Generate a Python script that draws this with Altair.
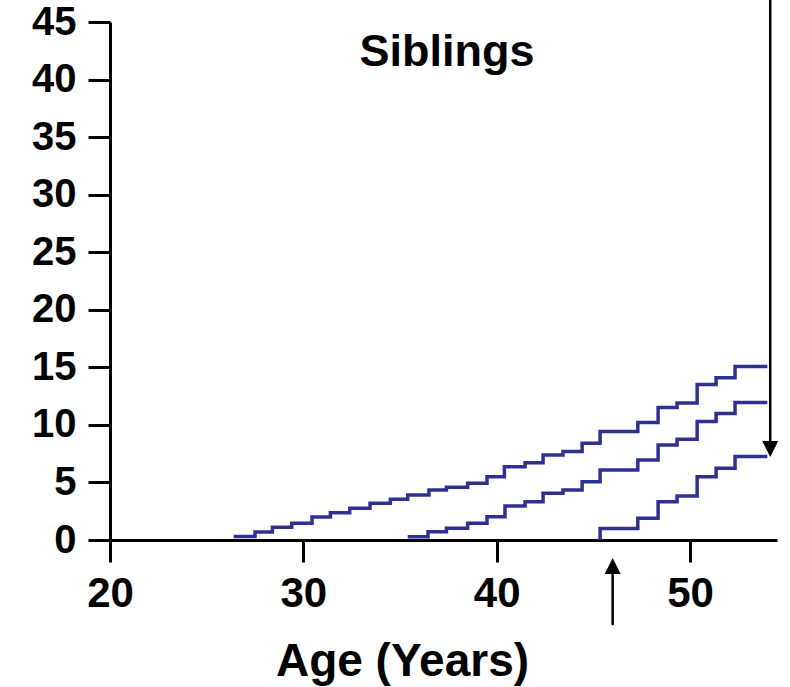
import altair as alt
import pandas as pd

# Series (age in years, cumulative value)
top_ages = [26.4, 27.5, 28.4, 29.4, 30.45, 31.4, 32.4, 33.45, 34.5, 35.4, 36.5, 37.4, 38.5, 39.5,
            40.4, 41.47, 42.4, 43.43, 44.42, 45.35, 47.3, 48.35, 49.33, 50.37, 51.35, 52.33, 54.0]
top_vals = [0.3, 0.7, 1.1, 1.45, 2.0, 2.37, 2.75, 3.19, 3.54, 3.91, 4.35, 4.58, 4.93, 5.5,
            6.37, 6.72, 7.39, 7.68, 8.41, 9.42, 10.2, 11.5, 11.9, 13.5, 14.1, 15.07, 15.07]

mid_ages = [35.4, 36.45, 37.4, 38.5, 39.5, 40.43, 41.47, 42.4, 43.43, 44.42, 45.35, 47.3, 48.35,
            49.33, 50.37, 51.35, 52.33, 54.0]
mid_vals = [0.29, 0.72, 1.01, 1.45, 2.03, 2.95, 3.33, 4.06, 4.35, 5.07, 6.09, 6.96, 8.26,
            8.75, 10.3, 11.0, 11.94, 11.94]

low_ages = [45.35, 45.35, 47.3, 48.35, 49.33, 50.37, 51.35, 52.33, 54.0]
low_vals = [0.0, 1.0, 1.88, 3.33, 3.83, 5.5, 6.23, 7.25, 7.25]

x_ticks = [20, 30, 40, 50]
y_ticks = [0, 5, 10, 15, 20, 25, 30, 35, 40, 45]

panel_title = "Siblings"
x_title = "Age (Years)"

# Annotation arrows (age, start value, tip value)
down_arrow = [54.15, 47.0, 7.2]
up_arrow = [46.0, -7.4, -1.57]

rows = []
for name, ages, vals in [("top", top_ages, top_vals), ("mid", mid_ages, mid_vals), ("low", low_ages, low_vals)]:
    for i, (a, v) in enumerate(zip(ages, vals)):
        rows.append({"series": name, "age": a, "value": v, "order": i})
df = pd.DataFrame(rows)

FONT = "Liberation Sans"

xs = alt.Scale(domain=[20, 54.5], nice=False, zero=False)
ys = alt.Scale(domain=[0, 45], nice=False)

lines = alt.Chart(df).mark_line(
    interpolate="step-after", color="#2e3192", strokeWidth=3.5, clip=False
).encode(
    x=alt.X("age:Q", scale=xs,
            axis=alt.Axis(values=x_ticks, title=x_title, grid=False, labelFlush=False,
                          labelFontSize=42,
                          titleX=292, titleY=135, titleBaseline="alphabetic",
                          titleAlign="center", titleFontSize=46, labelPadding=11)),
    y=alt.Y("value:Q", scale=ys,
            axis=alt.Axis(values=y_ticks, title=None, grid=False, labelFlush=False,
                          labelFontSize=40, labelPadding=12)),
    detail="series:N",
    order="order:Q",
)

arrows_df = pd.DataFrame([
    {"age": down_arrow[0], "v1": down_arrow[1], "v2": down_arrow[2] + 1.0, "tip": down_arrow[2], "dir": "down"},
    {"age": up_arrow[0], "v1": up_arrow[1], "v2": up_arrow[2] - 1.0, "tip": up_arrow[2], "dir": "up"},
])

shafts = alt.Chart(arrows_df).mark_rule(color="black", strokeWidth=2.5, clip=False).encode(
    x=alt.X("age:Q", scale=xs), y=alt.Y("v1:Q", scale=ys), y2="v2:Q"
)

head_down = alt.Chart(arrows_df[arrows_df["dir"] == "down"]).mark_point(
    shape="M-1,-2L1,-2L0,0Z", filled=True, color="black", opacity=1, size=256, clip=False
).encode(x=alt.X("age:Q", scale=xs), y=alt.Y("tip:Q", scale=ys))

head_up = alt.Chart(arrows_df[arrows_df["dir"] == "up"]).mark_point(
    shape="M-1,2L1,2L0,0Z", filled=True, color="black", opacity=1, size=256, clip=False
).encode(x=alt.X("age:Q", scale=xs), y=alt.Y("tip:Q", scale=ys))

title_df = pd.DataFrame([{"age": 37.43, "value": 41.2, "label": panel_title}])
title = alt.Chart(title_df).mark_text(
    font=FONT, fontWeight="bold", fontSize=45, color="black", baseline="alphabetic", align="center"
).encode(x=alt.X("age:Q", scale=xs), y=alt.Y("value:Q", scale=ys), text="label:N")

chart = alt.layer(lines, shafts, head_down, head_up, title).properties(
    width=667, height=518,
    padding={"left": 110, "top": 22, "right": 13, "bottom": 147},
    autosize="none",
).configure_view(stroke=None).configure_axis(
    domainColor="black", domainWidth=3, tickColor="black", tickWidth=3, tickSize=22,
    labelFont=FONT, labelFontWeight="bold", labelColor="black",
    titleFont=FONT, titleFontWeight="bold", titleColor="black",
)

chart.save("out.html", embed_options={"renderer": "svg", "actions": False})
